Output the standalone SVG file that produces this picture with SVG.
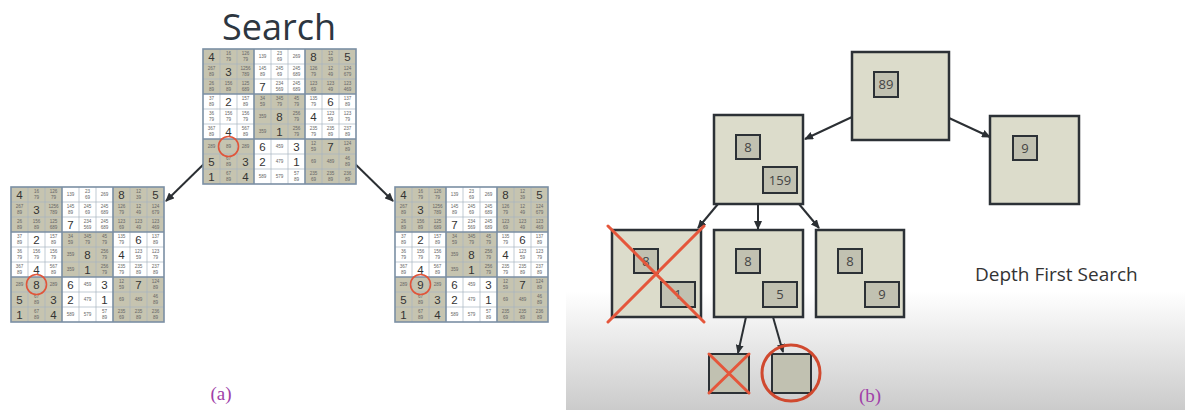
<svg xmlns="http://www.w3.org/2000/svg" xmlns:xlink="http://www.w3.org/1999/xlink" width="1185" height="410" viewBox="0 0 1185 410">
<style>
.title{font-family:"Open Sans","Liberation Sans",sans-serif;font-size:36px;fill:#2d3640}
.g{font-family:"Liberation Sans",Arial,sans-serif;font-size:11.5px;fill:#333;text-anchor:middle}
.c{font-family:"Liberation Sans",Arial,sans-serif;font-size:4.6px;fill:#666;text-anchor:middle}
.thin{stroke:#a7b4c2;stroke-width:0.7;fill:none}
.thick{stroke:#7b8fa4;stroke-width:1.6;fill:none}
.gb{fill:#c6c4b0}
.pick{fill:none;stroke:#e0553a;stroke-width:1.6}
.lab{font-family:"Liberation Serif","Times New Roman",serif;font-size:19px;fill:#a040a8;text-anchor:middle}
.node{fill:#dcdccb;stroke:#2c3136;stroke-width:2.5}
.inner{fill:#c1c1b1;stroke:#2c3136;stroke-width:2}
.num{font-family:"Open Sans","Liberation Sans",sans-serif;font-size:13px;fill:#444;text-anchor:middle}
.conn{stroke:#2b2f33;stroke-width:2;fill:none}
.cross{stroke:#e5563b;stroke-width:3;stroke-linecap:round}
.dfs{font-family:"Open Sans","Liberation Sans",sans-serif;font-size:19px;fill:#333}
</style>
<defs>
<linearGradient id="bg" x1="0" y1="0" x2="0" y2="1">
<stop offset="0" stop-color="#ffffff"/>
<stop offset="0.71" stop-color="#ffffff"/>
<stop offset="1" stop-color="#cbcbcb"/>
</linearGradient>
<marker id="ah" viewBox="0 0 9 8" refX="8" refY="4" markerWidth="9" markerHeight="8" markerUnits="userSpaceOnUse" orient="auto">
<path d="M0,0 L9,4 L0,8 z" fill="#2b2f33"/>
</marker>
<g id="sudoku">
<rect x="0" y="0" width="153" height="135" fill="#ffffff"/>
<rect class="gb" x="0" y="0" width="51" height="45"/>
<rect class="gb" x="102" y="0" width="51" height="45"/>
<rect class="gb" x="51" y="45" width="51" height="45"/>
<rect class="gb" x="0" y="90" width="51" height="45"/>
<rect class="gb" x="102" y="90" width="51" height="45"/>
<path class="thin" d="M17,0V135M34,0V135M68,0V135M85,0V135M119,0V135M136,0V135M0,15H153M0,30H153M0,60H153M0,75H153M0,105H153M0,120H153"/>
<path class="thick" d="M51,0V135M102,0V135M0,45H153M0,90H153"/>
<rect class="thick" x="0" y="0" width="153" height="135"/>
<!-- row 0 -->
<text class="g" x="8.5" y="11.5">4</text>
<text class="c" x="25.5" y="6.2">16<tspan x="25.5" dy="5.6">79</tspan></text>
<text class="c" x="42.5" y="6.2">126<tspan x="42.5" dy="5.6">79</tspan></text>
<text class="c" x="59.5" y="9.3">139</text>
<text class="c" x="76.5" y="6.2">23<tspan x="76.5" dy="5.6">69</tspan></text>
<text class="c" x="93.5" y="9.3">269</text>
<text class="g" x="110.5" y="11.5">8</text>
<text class="c" x="127.5" y="6.2">12<tspan x="127.5" dy="5.6">39</tspan></text>
<text class="g" x="144.5" y="11.5">5</text>
<!-- row 1 -->
<text class="c" x="8.5" y="21.2">267<tspan x="8.5" dy="5.6">89</tspan></text>
<text class="g" x="25.5" y="26.5">3</text>
<text class="c" x="42.5" y="21.2">1256<tspan x="42.5" dy="5.6">789</tspan></text>
<text class="c" x="59.5" y="21.2">145<tspan x="59.5" dy="5.6">89</tspan></text>
<text class="c" x="76.5" y="21.2">245<tspan x="76.5" dy="5.6">69</tspan></text>
<text class="c" x="93.5" y="21.2">245<tspan x="93.5" dy="5.6">689</tspan></text>
<text class="c" x="110.5" y="21.2">126<tspan x="110.5" dy="5.6">79</tspan></text>
<text class="c" x="127.5" y="21.2">12<tspan x="127.5" dy="5.6">49</tspan></text>
<text class="c" x="144.5" y="21.2">124<tspan x="144.5" dy="5.6">679</tspan></text>
<!-- row 2 -->
<text class="c" x="8.5" y="36.2">26<tspan x="8.5" dy="5.6">89</tspan></text>
<text class="c" x="25.5" y="36.2">156<tspan x="25.5" dy="5.6">89</tspan></text>
<text class="c" x="42.5" y="36.2">125<tspan x="42.5" dy="5.6">689</tspan></text>
<text class="g" x="59.5" y="41.5">7</text>
<text class="c" x="76.5" y="36.2">234<tspan x="76.5" dy="5.6">569</tspan></text>
<text class="c" x="93.5" y="36.2">245<tspan x="93.5" dy="5.6">689</tspan></text>
<text class="c" x="110.5" y="36.2">123<tspan x="110.5" dy="5.6">69</tspan></text>
<text class="c" x="127.5" y="36.2">123<tspan x="127.5" dy="5.6">49</tspan></text>
<text class="c" x="144.5" y="36.2">123<tspan x="144.5" dy="5.6">469</tspan></text>
<!-- row 3 -->
<text class="c" x="8.5" y="51.2">37<tspan x="8.5" dy="5.6">89</tspan></text>
<text class="g" x="25.5" y="56.5">2</text>
<text class="c" x="42.5" y="51.2">157<tspan x="42.5" dy="5.6">89</tspan></text>
<text class="c" x="59.5" y="51.2">34<tspan x="59.5" dy="5.6">59</tspan></text>
<text class="c" x="76.5" y="51.2">345<tspan x="76.5" dy="5.6">79</tspan></text>
<text class="c" x="93.5" y="51.2">45<tspan x="93.5" dy="5.6">79</tspan></text>
<text class="c" x="110.5" y="51.2">135<tspan x="110.5" dy="5.6">79</tspan></text>
<text class="g" x="127.5" y="56.5">6</text>
<text class="c" x="144.5" y="51.2">137<tspan x="144.5" dy="5.6">89</tspan></text>
<!-- row 4 -->
<text class="c" x="8.5" y="66.2">36<tspan x="8.5" dy="5.6">79</tspan></text>
<text class="c" x="25.5" y="66.2">156<tspan x="25.5" dy="5.6">79</tspan></text>
<text class="c" x="42.5" y="66.2">156<tspan x="42.5" dy="5.6">79</tspan></text>
<text class="c" x="59.5" y="69.3">359</text>
<text class="g" x="76.5" y="71.5">8</text>
<text class="c" x="93.5" y="66.2">256<tspan x="93.5" dy="5.6">79</tspan></text>
<text class="g" x="110.5" y="71.5">4</text>
<text class="c" x="127.5" y="66.2">123<tspan x="127.5" dy="5.6">59</tspan></text>
<text class="c" x="144.5" y="66.2">123<tspan x="144.5" dy="5.6">79</tspan></text>
<!-- row 5 -->
<text class="c" x="8.5" y="81.2">367<tspan x="8.5" dy="5.6">89</tspan></text>
<text class="g" x="25.5" y="86.5">4</text>
<text class="c" x="42.5" y="81.2">567<tspan x="42.5" dy="5.6">89</tspan></text>
<text class="c" x="59.5" y="84.3">359</text>
<text class="g" x="76.5" y="86.5">1</text>
<text class="c" x="93.5" y="81.2">256<tspan x="93.5" dy="5.6">79</tspan></text>
<text class="c" x="110.5" y="81.2">235<tspan x="110.5" dy="5.6">79</tspan></text>
<text class="c" x="127.5" y="81.2">235<tspan x="127.5" dy="5.6">89</tspan></text>
<text class="c" x="144.5" y="81.2">237<tspan x="144.5" dy="5.6">89</tspan></text>
<!-- row 6 -->
<text class="c" x="8.5" y="99.3">289</text>
<text class="c" x="42.5" y="99.3">289</text>
<text class="g" x="59.5" y="101.5">6</text>
<text class="c" x="76.5" y="99.3">459</text>
<text class="g" x="93.5" y="101.5">3</text>
<text class="c" x="110.5" y="96.2">12<tspan x="110.5" dy="5.6">59</tspan></text>
<text class="g" x="127.5" y="101.5">7</text>
<text class="c" x="144.5" y="96.2">124<tspan x="144.5" dy="5.6">89</tspan></text>
<!-- row 7 -->
<text class="g" x="8.5" y="116.5">5</text>
<text class="c" x="25.5" y="111.2">67<tspan x="25.5" dy="5.6">89</tspan></text>
<text class="g" x="42.5" y="116.5">3</text>
<text class="g" x="59.5" y="116.5">2</text>
<text class="c" x="76.5" y="114.3">479</text>
<text class="g" x="93.5" y="116.5">1</text>
<text class="c" x="110.5" y="114.3">69</text>
<text class="c" x="127.5" y="114.3">489</text>
<text class="c" x="144.5" y="111.2">46<tspan x="144.5" dy="5.6">89</tspan></text>
<!-- row 8 -->
<text class="g" x="8.5" y="131.5">1</text>
<text class="c" x="25.5" y="126.2">67<tspan x="25.5" dy="5.6">89</tspan></text>
<text class="g" x="42.5" y="131.5">4</text>
<text class="c" x="59.5" y="129.3">589</text>
<text class="c" x="76.5" y="129.3">579</text>
<text class="c" x="93.5" y="126.2">57<tspan x="93.5" dy="5.6">89</tspan></text>
<text class="c" x="110.5" y="126.2">235<tspan x="110.5" dy="5.6">69</tspan></text>
<text class="c" x="127.5" y="126.2">235<tspan x="127.5" dy="5.6">89</tspan></text>
<text class="c" x="144.5" y="126.2">236<tspan x="144.5" dy="5.6">89</tspan></text>
</g>
</defs>

<rect x="0" y="0" width="1185" height="410" fill="#ffffff"/>
<rect x="566" y="0" width="619" height="410" fill="url(#bg)"/>

<!-- Panel (a) -->
<g id="connectors-a">
<line class="conn" x1="210" y1="158" x2="166" y2="201" marker-end="url(#ah)"/>
<line class="conn" x1="349" y1="158" x2="393" y2="201" marker-end="url(#ah)"/>
</g>
<text class="title" x="279" y="40" text-anchor="middle">Search</text>
<g id="grid-top" transform="translate(203,49)">
<use xlink:href="#sudoku" href="#sudoku"/>
<text class="c" x="25.5" y="99.3">89</text>
<circle class="pick" cx="25.5" cy="97.5" r="10"/>
</g>
<g id="grid-left" transform="translate(11,187)">
<use xlink:href="#sudoku" href="#sudoku"/>
<text class="g" x="25.5" y="101.5">8</text>
<circle class="pick" cx="25.5" cy="97.5" r="10"/>
</g>
<g id="grid-right" transform="translate(395,187)">
<use xlink:href="#sudoku" href="#sudoku"/>
<text class="g" x="25.5" y="101.5">9</text>
<circle class="pick" cx="25.5" cy="97.5" r="10"/>
</g>
<text class="lab" x="221" y="400">(a)</text>

<!-- Panel (b) -->
<g id="connectors-b">
<line class="conn" x1="852" y1="117" x2="805" y2="139" marker-end="url(#ah)"/>
<line class="conn" x1="949" y1="118" x2="990" y2="137" marker-end="url(#ah)"/>
<line class="conn" x1="718" y1="204" x2="698" y2="228" marker-end="url(#ah)"/>
<line class="conn" x1="758" y1="204" x2="758" y2="229" marker-end="url(#ah)"/>
<line class="conn" x1="799" y1="204" x2="819" y2="228" marker-end="url(#ah)"/>
<line class="conn" x1="746" y1="317" x2="738" y2="353" marker-end="url(#ah)"/>
<line class="conn" x1="773" y1="317" x2="783" y2="352" marker-end="url(#ah)"/>
</g>
<g id="node-root">
<rect class="node" x="852" y="52" width="97" height="88"/>
<rect class="inner" x="874" y="72" width="24" height="25"/>
<text class="num" x="886" y="89">89</text>
</g>
<g id="node-8-159">
<rect class="node" x="714" y="115" width="89" height="89"/>
<rect class="inner" x="736" y="135" width="24" height="24"/>
<text class="num" x="748" y="152">8</text>
<rect class="inner" x="763" y="167" width="34" height="26"/>
<text class="num" x="780" y="185">159</text>
</g>
<g id="node-9">
<rect class="node" x="990" y="116" width="89" height="88"/>
<rect class="inner" x="1013" y="136" width="24" height="24"/>
<text class="num" x="1025" y="153">9</text>
</g>
<g id="node-8-1">
<rect class="node" x="612" y="230" width="89" height="87"/>
<rect class="inner" x="634" y="249" width="24" height="24"/>
<text class="num" x="646" y="266">8</text>
<rect class="inner" x="661" y="282" width="34" height="25"/>
<text class="num" x="678" y="299">1</text>
<line class="cross" x1="608" y1="226" x2="704" y2="322"/>
<line class="cross" x1="704" y1="226" x2="608" y2="322"/>
</g>
<g id="node-8-5">
<rect class="node" x="714" y="230" width="89" height="87"/>
<rect class="inner" x="736" y="249" width="24" height="24"/>
<text class="num" x="748" y="266">8</text>
<rect class="inner" x="763" y="282" width="34" height="25"/>
<text class="num" x="780" y="299">5</text>
</g>
<g id="node-8-9">
<rect class="node" x="816" y="230" width="88" height="87"/>
<rect class="inner" x="838" y="249" width="24" height="24"/>
<text class="num" x="850" y="266">8</text>
<rect class="inner" x="865" y="282" width="34" height="25"/>
<text class="num" x="882" y="299">9</text>
</g>
<g id="node-dead">
<rect class="inner" x="709" y="354" width="40" height="39"/>
<line class="cross" x1="709" y1="354" x2="749" y2="393"/>
<line class="cross" x1="749" y1="354" x2="709" y2="393"/>
</g>
<g id="node-goal">
<rect class="inner" x="772" y="354" width="39" height="39"/>
<ellipse cx="791" cy="373" rx="29" ry="28" fill="none" stroke="#d0492f" stroke-width="3"/>
</g>
<text class="dfs" x="975" y="281">Depth First Search</text>
<text class="lab" x="870" y="402">(b)</text>
</svg>
